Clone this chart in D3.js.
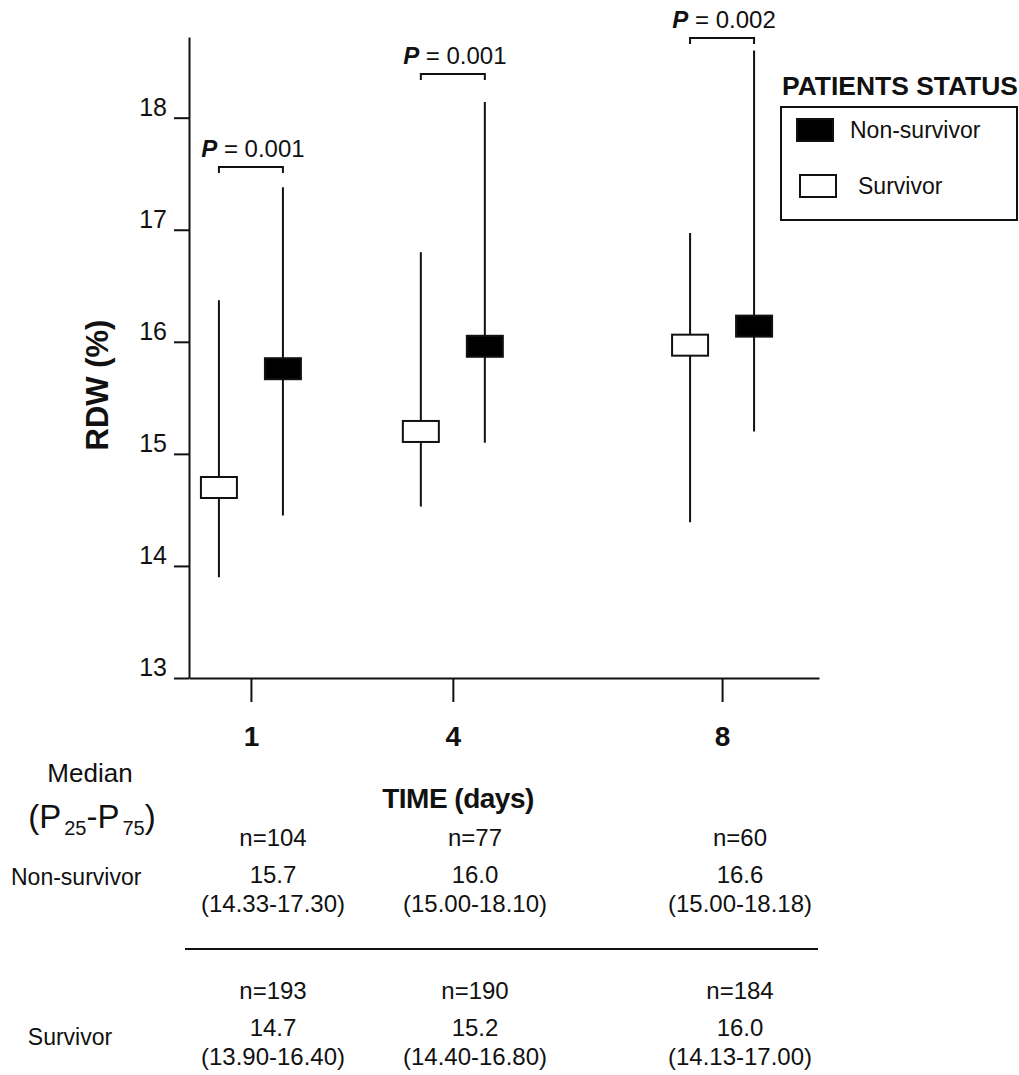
<!DOCTYPE html>
<html>
<head>
<meta charset="utf-8">
<script src="https://cdn.jsdelivr.net/npm/d3@7"></script>
<style>
  body { margin: 0; background: #fff; }
  svg text { font-family: "Liberation Sans", Arial, sans-serif; fill: #111; }
</style>
</head>
<body>
<div id="chart"></div>
<script>
// Days of measurement
const days = [1, 4, 8];

// Values as drawn on the plot (median, P25, P75)
const survivorMedian = [14.7, 15.2, 15.97];
const survivorLow = [13.9, 14.53, 14.39];
const survivorHigh = [16.37, 16.8, 16.97];
const nonSurvivorMedian = [15.76, 15.96, 16.14];
const nonSurvivorLow = [14.45, 15.1, 15.2];
const nonSurvivorHigh = [17.38, 18.14, 18.6];

// P-value brackets
const pValues = ["0.001", "0.001", "0.002"];
const bracketLevels = [17.56, 18.39, 18.71];

const yTicks = [13, 14, 15, 16, 17, 18];

// Table below the chart
const nonSurvivorN = ["n=104", "n=77", "n=60"];
const nonSurvivorMedianText = ["15.7", "16.0", "16.6"];
const nonSurvivorIqrText = ["(14.33-17.30)", "(15.00-18.10)", "(15.00-18.18)"];
const survivorN = ["n=193", "n=190", "n=184"];
const survivorMedianText = ["14.7", "15.2", "16.0"];
const survivorIqrText = ["(13.90-16.40)", "(14.40-16.80)", "(14.13-17.00)"];
const tableColumns = [273, 475, 740];

const width = 1019, height = 1075;

const svg = d3.select("#chart").append("svg")
	.attr("width", width)
	.attr("height", height);

// Scales
const xScale = d3.scaleLinear().domain([0.08, 9.44]).range([189, 819]);
const yScale = d3.scaleLinear().domain([13, 18.72]).range([678, 37]);
const groupOffset = 32;
const boxW = 36, boxH = 21;

// Y axis
const $yAxis = svg.append("g")
	.attr("transform", "translate(189,0)")
	.call(d3.axisLeft(yScale).tickValues(yTicks).tickFormat(d3.format("d"))
		.tickSize(15).tickSizeOuter(0).tickPadding(7));
$yAxis.select(".domain").attr("stroke", "#111").attr("stroke-width", 2);
$yAxis.selectAll(".tick line").attr("stroke", "#111").attr("stroke-width", 2);
$yAxis.selectAll(".tick text")
	.attr("font-size", 25)
	.attr("dy", "-0.1em")
	.attr("fill", "#111")
	.style("font-family", "'Liberation Sans', Arial, sans-serif");

// X axis
const $xAxis = svg.append("g")
	.attr("transform", "translate(0,678)")
	.call(d3.axisBottom(xScale).tickValues(days).tickSize(24).tickSizeOuter(0));
$xAxis.select(".domain").attr("stroke", "#111").attr("stroke-width", 2);
$xAxis.selectAll(".tick line").attr("stroke", "#111").attr("stroke-width", 2);
$xAxis.selectAll(".tick text")
	.attr("font-size", 28)
	.attr("font-weight", "bold")
	.attr("y", 68)
	.attr("dy", 0)
	.attr("fill", "#111")
	.style("font-family", "'Liberation Sans', Arial, sans-serif");

// Axis titles
svg.append("text")
	.attr("transform", "translate(108,385) rotate(-90)")
	.attr("text-anchor", "middle")
	.attr("font-size", 31)
	.attr("font-weight", "bold")
	.text("RDW (%)");

svg.append("text")
	.attr("x", 458)
	.attr("y", 808)
	.attr("text-anchor", "middle")
	.attr("font-size", 28)
	.attr("font-weight", "bold")
	.attr("letter-spacing", -0.5)
	.text("TIME (days)");

// Series
const series = [
	{ name: "Survivor", med: survivorMedian, lo: survivorLow, hi: survivorHigh, fill: "#fff", dx: -groupOffset },
	{ name: "Non-survivor", med: nonSurvivorMedian, lo: nonSurvivorLow, hi: nonSurvivorHigh, fill: "#000", dx: groupOffset }
];

series.forEach(function (s) {
	const g = svg.append("g");
	const pts = days.map(function (d, i) {
		return { x: xScale(d) + s.dx, med: s.med[i], lo: s.lo[i], hi: s.hi[i] };
	});
	g.selectAll("line.whisker").data(pts).enter().append("line")
		.attr("class", "whisker")
		.attr("x1", function (d) { return d.x; })
		.attr("x2", function (d) { return d.x; })
		.attr("y1", function (d) { return yScale(d.lo); })
		.attr("y2", function (d) { return yScale(d.hi); })
		.attr("stroke", "#111")
		.attr("stroke-width", 2);
	g.selectAll("rect.box").data(pts).enter().append("rect")
		.attr("class", "box")
		.attr("x", function (d) { return d.x - boxW / 2; })
		.attr("y", function (d) { return yScale(d.med) - boxH / 2; })
		.attr("width", boxW)
		.attr("height", boxH)
		.attr("fill", s.fill)
		.attr("stroke", "#111")
		.attr("stroke-width", 2);
});

// P-value brackets
days.forEach(function (d, i) {
	const x1 = xScale(d) - groupOffset;
	const x2 = xScale(d) + groupOffset;
	const y = yScale(bracketLevels[i]);
	svg.append("path")
		.attr("d", `M${x1},${y + 6}V${y}H${x2}V${y + 6}`)
		.attr("fill", "none")
		.attr("stroke", "#111")
		.attr("stroke-width", 2);
	const t = svg.append("text")
		.attr("x", (x1 + x2) / 2 + 2)
		.attr("y", y - 10)
		.attr("text-anchor", "middle")
		.attr("font-size", 24);
	t.append("tspan").attr("font-style", "italic").attr("font-weight", "bold").text("P");
	t.append("tspan").text("  = " + pValues[i]);
});

// Legend
const $legend = svg.append("g");
$legend.append("text")
	.attr("x", 782)
	.attr("y", 95)
	.attr("font-size", 26)
	.attr("font-weight", "bold")
	.attr("textLength", 236)
	.attr("lengthAdjust", "spacingAndGlyphs")
	.text("PATIENTS STATUS");
$legend.append("rect")
	.attr("x", 781).attr("y", 107)
	.attr("width", 236).attr("height", 113)
	.attr("fill", "none").attr("stroke", "#111").attr("stroke-width", 2);
const legendItems = [
	{ label: "Non-survivor", fill: "#000", y: 130, sx: 797, tx: 850 },
	{ label: "Survivor", fill: "#fff", y: 186, sx: 800, tx: 858 }
];
legendItems.forEach(function (it) {
	$legend.append("rect")
		.attr("x", it.sx)
		.attr("y", it.y - 11)
		.attr("width", 36).attr("height", 22)
		.attr("fill", it.fill).attr("stroke", "#111").attr("stroke-width", 2);
	$legend.append("text")
		.attr("x", it.tx)
		.attr("y", it.y + 8)
		.attr("font-size", 23)
		.attr("fill", "#222")
		.text(it.label);
});

// Table under the chart
const $table = svg.append("g").attr("fill", "#222");
$table.append("text")
	.attr("x", 90).attr("y", 782)
	.attr("text-anchor", "middle")
	.attr("font-size", 26)
	.text("Median");
const pLabel = $table.append("text")
	.attr("x", 92).attr("y", 828)
	.attr("text-anchor", "middle")
	.attr("font-size", 33);
pLabel.append("tspan").text("(P");
pLabel.append("tspan").attr("font-size", 20).attr("dx", 3).attr("dy", 7).text("25");
pLabel.append("tspan").attr("dy", -7).text("-P");
pLabel.append("tspan").attr("font-size", 20).attr("dx", 3).attr("dy", 7).text("75");
pLabel.append("tspan").attr("dy", -7).text(")");

$table.append("text")
	.attr("x", 11).attr("y", 885)
	.attr("font-size", 23)
	.text("Non-survivor");
$table.append("text")
	.attr("x", 70).attr("y", 1045)
	.attr("text-anchor", "middle")
	.attr("font-size", 23)
	.text("Survivor");

const tableRows = [
	{ values: nonSurvivorN, y: 846 },
	{ values: nonSurvivorMedianText, y: 883 },
	{ values: nonSurvivorIqrText, y: 912 },
	{ values: survivorN, y: 999 },
	{ values: survivorMedianText, y: 1036 },
	{ values: survivorIqrText, y: 1065 }
];
tableRows.forEach(function (row) {
	$table.selectAll(null).data(row.values).enter().append("text")
		.attr("x", function (d, i) { return tableColumns[i]; })
		.attr("y", row.y)
		.attr("text-anchor", "middle")
		.attr("font-size", 24)
		.text(function (d) { return d; });
});

$table.append("line")
	.attr("x1", 185).attr("x2", 818)
	.attr("y1", 949).attr("y2", 949)
	.attr("stroke", "#111").attr("stroke-width", 2);
</script>
</body>
</html>
